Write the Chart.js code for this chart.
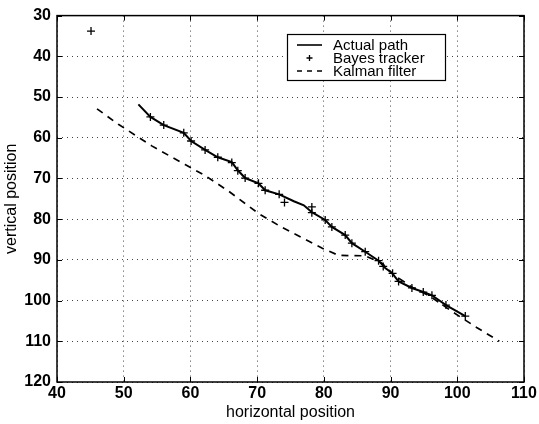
<!DOCTYPE html>
<html>
<head>
<meta charset="utf-8">
<script src="https://cdn.jsdelivr.net/npm/chart.js@4.4.0/dist/chart.umd.min.js"></script>
<style>
  html, body { margin: 0; padding: 0; background: #fff; }
</style>
</head>
<body>
<canvas id="trackChart" width="539" height="424"></canvas>
<script>
/* Tracking comparison — true path vs Bayes tracker vs Kalman filter */

var X_TICKS = [40, 50, 60, 70, 80, 90, 100, 110];
var Y_TICKS = [30, 40, 50, 60, 70, 80, 90, 100, 110, 120];

var pathX = [52.2, 54.0, 56.0, 59.0, 60.1, 62.2, 64.1, 66.2, 67.1, 68.2, 70.2, 71.2, 73.3, 75.5, 77.0, 78.2, 80.2, 81.2, 83.2, 84.2, 86.2, 88.2, 89.2, 90.2, 91.2, 93.2, 94.9, 96.2, 98.3, 101.2];
var pathY = [51.8, 54.9, 56.9, 58.8, 60.8, 63.0, 64.8, 66.0, 68.0, 69.9, 71.2, 72.9, 73.9, 75.6, 76.6, 78.3, 80.2, 81.9, 83.9, 85.9, 88.0, 90.2, 92.0, 93.2, 95.3, 96.9, 97.9, 98.7, 101.1, 103.8];

var bayesX = [45.1, 54.0, 56.0, 59.0, 60.1, 62.2, 64.1, 66.2, 67.1, 68.2, 70.2, 71.2, 73.3, 74.1, 78.2, 78.2, 80.2, 81.2, 83.2, 84.2, 86.2, 88.2, 88.9, 90.3, 91.2, 93.2, 94.9, 96.2, 98.3, 101.2];
var bayesY = [33.8, 54.9, 56.9, 58.8, 60.8, 63.0, 64.8, 66.1, 68.1, 69.9, 71.2, 72.9, 73.9, 75.9, 77.0, 78.4, 80.2, 81.9, 83.9, 85.9, 88.0, 90.2, 91.6, 93.3, 95.3, 96.9, 97.9, 98.7, 101.1, 103.8];

var kalmanX = [46.0, 49.2, 54.2, 59.2, 62.2, 65.7, 70.2, 73.7, 79.7, 82.2, 86.2, 88.7, 90.4, 93.4, 95.9, 99.4, 102.9, 106.3];
var kalmanY = [52.9, 56.7, 62.0, 66.6, 69.3, 73.1, 78.6, 82.0, 87.1, 88.9, 89.0, 90.8, 93.6, 96.9, 98.9, 102.9, 106.6, 110.0];

var SERIES_LABELS = ["Actual path", "Bayes tracker", "Kalman filter"];

function toPoints(xs, ys) {
  return xs.map(function (x, i) { return { x: x, y: ys[i] }; });
}

var FONT = "'Liberation Sans', Arial, Helvetica, sans-serif";

/* box around the axes with inward tick marks on all four sides */
var frameTicks = {
  id: "frameTicks",
  afterDatasetsDraw: function (chart) {
    var ctx = chart.ctx, a = chart.chartArea;
    var xs = chart.scales.x, ys = chart.scales.y;
    var len = 5;
    ctx.save();
    ctx.strokeStyle = "#000";
    ctx.lineWidth = 1.5;
    ctx.strokeRect(a.left, a.top, a.right - a.left, a.bottom - a.top);
    ctx.lineWidth = 1;
    ctx.beginPath();
    X_TICKS.forEach(function (v) {
      var px = Math.round(xs.getPixelForValue(v)) + 0.5;
      ctx.moveTo(px, a.bottom); ctx.lineTo(px, a.bottom - len);
      ctx.moveTo(px, a.top); ctx.lineTo(px, a.top + len);
    });
    Y_TICKS.forEach(function (v) {
      var py = Math.round(ys.getPixelForValue(v)) + 0.5;
      ctx.moveTo(a.left, py); ctx.lineTo(a.left + len, py);
      ctx.moveTo(a.right, py); ctx.lineTo(a.right - len, py);
    });
    ctx.stroke();
    ctx.restore();
  }
};

/* boxed legend in the upper right of the plot */
var boxLegend = {
  id: "boxLegend",
  afterDraw: function (chart) {
    var ctx = chart.ctx;
    var bx = 287, by = 34, bw = 158, bh = 46;
    ctx.save();
    ctx.fillStyle = "#fff";
    ctx.fillRect(bx, by, bw, bh);
    ctx.strokeStyle = "#000";
    ctx.lineWidth = 1.2;
    ctx.strokeRect(bx + 0.5, by + 0.5, bw, bh);

    var rows = [by + 11, by + 24, by + 37];
    var sx0 = bx + 10, sx1 = bx + 35, tx = bx + 46;

    ctx.lineWidth = 1.6;
    ctx.beginPath();
    ctx.moveTo(sx0, rows[0]); ctx.lineTo(sx1, rows[0]);
    ctx.stroke();

    var cx = (sx0 + sx1) / 2;
    ctx.lineWidth = 1.3;
    ctx.beginPath();
    ctx.moveTo(cx - 3, rows[1]); ctx.lineTo(cx + 3, rows[1]);
    ctx.moveTo(cx, rows[1] - 3); ctx.lineTo(cx, rows[1] + 3);
    ctx.stroke();

    ctx.lineWidth = 1.6;
    ctx.setLineDash([5, 5]);
    ctx.beginPath();
    ctx.moveTo(sx0, rows[2]); ctx.lineTo(sx1, rows[2]);
    ctx.stroke();
    ctx.setLineDash([]);

    ctx.fillStyle = "#000";
    ctx.font = "15px " + FONT;
    ctx.textBaseline = "middle";
    SERIES_LABELS.forEach(function (t, i) { ctx.fillText(t, tx, rows[i] + 1); });
    ctx.restore();
  }
};

new Chart(document.getElementById("trackChart"), {
  type: "scatter",
  data: {
    datasets: [
      {
        label: SERIES_LABELS[0],
        data: toPoints(pathX, pathY),
        showLine: true,
        borderColor: "#000",
        borderWidth: 2,
        pointRadius: 0,
        tension: 0
      },
      {
        label: SERIES_LABELS[1],
        data: toPoints(bayesX, bayesY),
        showLine: false,
        pointStyle: "cross",
        pointRadius: 4,
        borderColor: "#000",
        borderWidth: 1.3
      },
      {
        label: SERIES_LABELS[2],
        data: toPoints(kalmanX, kalmanY),
        showLine: true,
        borderColor: "#000",
        borderWidth: 1.7,
        borderDash: [7, 6],
        pointRadius: 0,
        tension: 0
      }
    ]
  },
  options: {
    responsive: false,
    animation: false,
    devicePixelRatio: 1,
    layout: { padding: { top: 13, right: 15, left: 0, bottom: 0 } },
    plugins: { legend: { display: false }, tooltip: { enabled: false } },
    scales: {
      x: {
        type: "linear",
        min: 40, max: 110,
        afterFit: function (s) { s.height = 42; },
        afterBuildTicks: function (s) { s.ticks = X_TICKS.map(function (v) { return { value: v }; }); },
        grid: { color: "#444", lineWidth: 1, drawTicks: false },
        border: { display: false, dash: [1, 4] },
        ticks: { color: "#000", padding: 2, font: { family: FONT, size: 16, weight: "bold" } },
        title: { display: true, text: "horizontal position", color: "#000", padding: { top: 0, bottom: 2 }, font: { family: FONT, size: 16 } }
      },
      y: {
        type: "linear",
        reverse: true,
        min: 30, max: 120,
        afterFit: function (s) { s.width = 57; },
        afterBuildTicks: function (s) { s.ticks = Y_TICKS.map(function (v) { return { value: v }; }); },
        grid: { color: "#444", lineWidth: 1, drawTicks: false },
        border: { display: false, dash: [1, 4] },
        ticks: { color: "#000", padding: 6, font: { family: FONT, size: 16, weight: "bold" } },
        title: { display: true, text: "vertical position", color: "#000", padding: { top: 2, bottom: 0 }, font: { family: FONT, size: 16 } }
      }
    }
  },
  plugins: [frameTicks, boxLegend]
});
</script>
</body>
</html>
